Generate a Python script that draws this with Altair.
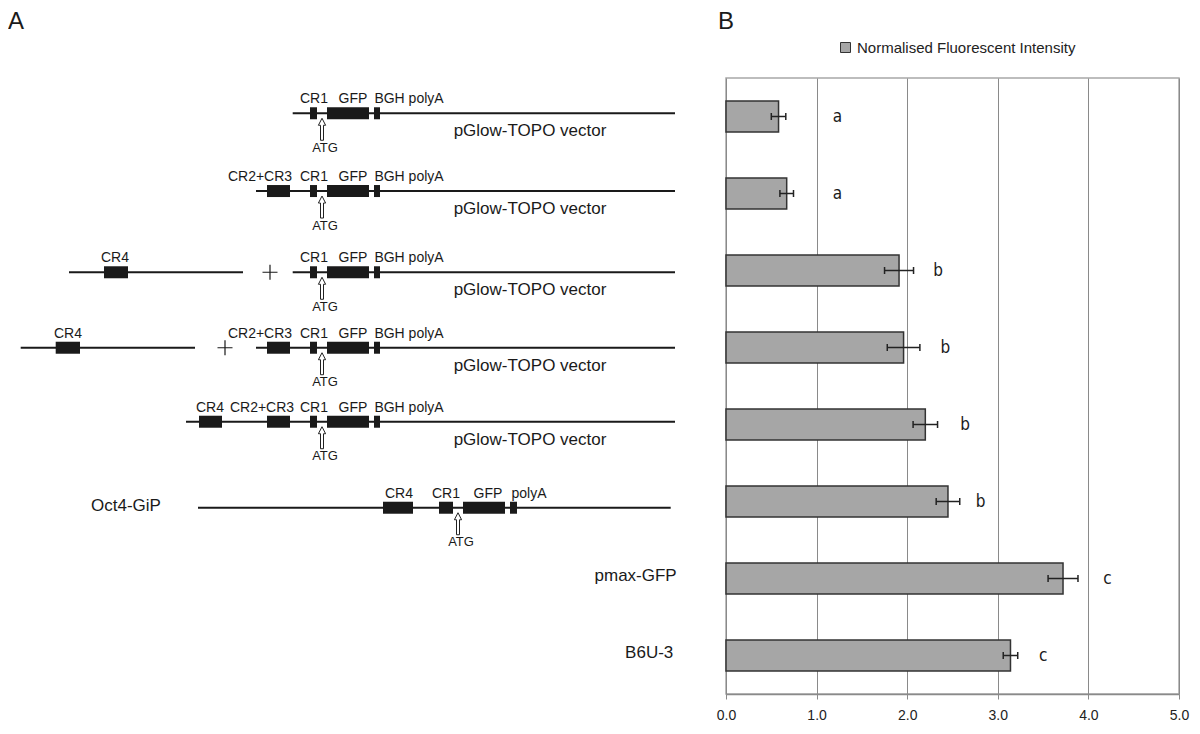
import altair as alt
import pandas as pd

FONT = "Liberation Sans, Arial, sans-serif"
NARROW = "Liberation Sans Narrow, DejaVu Sans Condensed, Liberation Sans, sans-serif"
INK = "#1a1a1a"

# ---------------- Panel B : bar chart data ----------------
constructs = ["CR1", "CR2+CR3 CR1", "CR4 + CR1", "CR4 + CR2+CR3 CR1",
              "CR4 CR2+CR3 CR1", "Oct4-GiP", "pmax-GFP", "B6U-3"]
intensity = [0.58, 0.67, 1.91, 1.96, 2.20, 2.45, 3.72, 3.14]
error = [0.08, 0.075, 0.16, 0.18, 0.135, 0.13, 0.165, 0.08]
group_letter = ["a", "a", "b", "b", "b", "b", "c", "c"]
letter_pos = [1.23, 1.23, 2.34, 2.42, 2.64, 2.81, 4.21, 3.50]
axis_ticks = [0, 1, 2, 3, 4, 5]
series_name = "Normalised Fluorescent Intensity"

# ---------------- Panel A : construct schematic (schematic units) ----------------
row_line = [0.958, 1.968, 3.023, 4.003, 4.964, 6.081]  # track position of rows 1-6

track_row = [1, 2, 3, 3, 4, 4, 5, 6]
track_start = [284.7, 248, 61, 284.7, 12.7, 248, 178, 190]
track_end = [667, 667, 235, 667, 187, 667, 667, 662.7]

box_row = [1, 1, 1, 2, 2, 2, 2, 3, 3, 3, 3, 4, 4, 4, 4, 4, 5, 5, 5, 5, 5, 6, 6, 6, 6]
box_start = [302, 319, 366, 259, 302, 319, 366, 96, 302, 319, 366,
             47.7, 259, 302, 319, 366, 191, 259, 302, 319, 366, 375, 431, 455, 502]
box_end = [309, 361, 372, 282, 309, 361, 372, 120, 309, 361, 372,
           72, 282, 309, 361, 372, 214, 282, 309, 361, 372, 405, 445, 497, 509]

feat_row = [1, 1, 1, 2, 2, 2, 2, 3, 3, 3, 3, 4, 4, 4, 4, 4, 5, 5, 5, 5, 5, 6, 6, 6, 6]
feat_x = [306, 345, 401, 252, 306, 345, 401, 107, 306, 345, 401,
          60, 252, 306, 345, 401, 202, 254, 306, 345, 401, 391, 438, 480, 521]
feat_text = ["CR1", "GFP", "BGH polyA", "CR2+CR3", "CR1", "GFP", "BGH polyA",
             "CR4", "CR1", "GFP", "BGH polyA",
             "CR4", "CR2+CR3", "CR1", "GFP", "BGH polyA",
             "CR4", "CR2+CR3", "CR1", "GFP", "BGH polyA",
             "CR4", "CR1", "GFP", "polyA"]

atg_row = [1, 2, 3, 4, 5, 6]
atg_arrow_x = [314, 314, 314, 314, 314, 450]
atg_text_x = [317, 317, 317, 317, 317, 453]

vector_row = [1, 2, 3, 4, 5]
vector_x = [522, 522, 522, 522, 522]
vector_text = "pGlow-TOPO vector"

plus_row = [3, 4]
plus_x = [262, 217]

side_text = ["Oct4-GiP", "pmax-GFP", "B6U-3"]
side_row = [6.081, 7, 8]
side_x = [118, 668.7, 665.3]

panel_text = ["A", "B"]
panel_x = [0, 710]
panel_row = [-0.383, -0.383]

# ---------------- frames ----------------
def ry(r):
    return row_line[r - 1]

df_tracks = pd.DataFrame({"start": track_start, "end": track_end,
                          "y": [ry(r) for r in track_row]})
df_boxes = pd.DataFrame({"start": box_start, "end": box_end,
                         "y": [ry(r) for r in box_row]})
df_feat = pd.DataFrame({"x": feat_x, "y": [ry(r) for r in feat_row], "t": feat_text})
df_arrow = pd.DataFrame({"x": atg_arrow_x, "y": [ry(r) for r in atg_row]})
df_atg = pd.DataFrame({"x": atg_text_x, "y": [ry(r) for r in atg_row], "t": ["ATG"] * 6})
df_vec = pd.DataFrame({"x": vector_x, "y": [ry(r) for r in vector_row],
                       "t": [vector_text] * len(vector_row)})
df_plus = pd.DataFrame({"x": plus_x, "y": [ry(r) for r in plus_row]})
df_side_c = pd.DataFrame({"x": side_x[:1], "y": side_row[:1], "t": side_text[:1]})
df_side_r = pd.DataFrame({"x": side_x[1:], "y": side_row[1:], "t": side_text[1:]})
df_panel = pd.DataFrame({"x": panel_x, "y": panel_row, "t": panel_text})

xs = alt.Scale(domain=[0, 718], nice=False, zero=False)
ys = alt.Scale(domain=[0.5, 8.5], reverse=True, nice=False, zero=False)
X = lambda f: alt.X(f, scale=xs, axis=None)
Y = lambda f: alt.Y(f, scale=ys, axis=None)

ARROW = ("M0,0.417 L0.3,1.0 L0.125,1.0 L0.125,2.25 L-0.125,2.25 "
         "L-0.125,1.0 L-0.3,1.0 Z")
PLUS = "M-1,0 L1,0 M0,-1 L0,1"

tracks = alt.Chart(df_tracks).mark_rule(color=INK, strokeWidth=2).encode(
    x=X("start:Q"), x2="end:Q", y=Y("y:Q"))
boxes = alt.Chart(df_boxes).mark_rule(color=INK, strokeWidth=12, strokeCap="butt").encode(
    x=X("start:Q"), x2="end:Q", y=Y("y:Q"))
plus = alt.Chart(df_plus).mark_point(shape=PLUS, size=225, filled=False, stroke=INK,
                                     strokeWidth=1.2, opacity=1).encode(
    x=X("x:Q"), y=Y("y:Q"))
arrows = alt.Chart(df_arrow).mark_point(shape=ARROW, size=576, filled=True, fill="white",
                                        stroke="#222", strokeWidth=1, opacity=1).encode(
    x=X("x:Q"), y=Y("y:Q"))
feat = alt.Chart(df_feat).mark_text(fontSize=14, font=FONT, color=INK, dy=-14,
                                    baseline="middle", align="center").encode(
    x=X("x:Q"), y=Y("y:Q"), text="t:N")
atg = alt.Chart(df_atg).mark_text(fontSize=13, font=FONT, color=INK, dy=34.5,
                                  baseline="middle", align="center").encode(
    x=X("x:Q"), y=Y("y:Q"), text="t:N")
vec = alt.Chart(df_vec).mark_text(fontSize=17, font=FONT, color=INK, dy=18,
                                  baseline="middle", align="center").encode(
    x=X("x:Q"), y=Y("y:Q"), text="t:N")
side_c = alt.Chart(df_side_c).mark_text(fontSize=17, font=FONT, color=INK, dy=-2,
                                        baseline="middle", align="center").encode(
    x=X("x:Q"), y=Y("y:Q"), text="t:N")
side_r = alt.Chart(df_side_r).mark_text(fontSize=17, font=FONT, color=INK, dy=-3,
                                        baseline="middle", align="right").encode(
    x=X("x:Q"), y=Y("y:Q"), text="t:N")
panels = alt.Chart(df_panel).mark_text(fontSize=24, font=FONT, color=INK,
                                       baseline="top", align="left").encode(
    x=X("x:Q"), y=Y("y:Q"), text="t:N")

left = alt.layer(tracks, boxes, plus, arrows, feat, atg, vec, side_c, side_r, panels).properties(
    width=718, height=616, view=alt.ViewBackground(strokeOpacity=0))

# ---------------- Panel B chart ----------------
df_bar = pd.DataFrame({
    "construct": constructs,
    "intensity": intensity,
    "lo": [m - e for m, e in zip(intensity, error)],
    "hi": [m + e for m, e in zip(intensity, error)],
    "letter": group_letter,
    "lpos": letter_pos,
    "series": [series_name] * len(constructs),
})
df_caps = pd.DataFrame({
    "construct": constructs * 2,
    "cap": list(df_bar["lo"]) + list(df_bar["hi"]),
})

bx = alt.Scale(domain=[0, 5], nice=False, zero=True)
by = alt.Scale(paddingInner=0.6, paddingOuter=0.3)
x_axis = alt.Axis(values=axis_ticks, format=".1f", title=None, grid=True,
                  gridColor="#8a8a8a", gridWidth=1, domainColor="#8a8a8a", domainWidth=1.5,
                  tickColor="#8a8a8a", tickSize=5, labelFontSize=14, labelColor="#222",
                  labelPadding=9, labelFlush=False, labelFont=FONT)
BY = alt.Y("construct:N", sort=constructs, scale=by, axis=None)

bars = alt.Chart(df_bar).mark_bar(stroke="#333333", strokeWidth=1.5).encode(
    x=alt.X("intensity:Q", scale=bx, axis=x_axis),
    y=BY,
    color=alt.Color("series:N", scale=alt.Scale(range=["#a6a6a6"]),
                    legend=alt.Legend(orient="none", legendX=830, legendY=-38, title=None,
                                      symbolType="square", symbolSize=100,
                                      symbolStrokeColor="#333333", symbolStrokeWidth=1,
                                      labelFontSize=15, labelFont=FONT, labelColor="#222",
                                      labelOffset=4, labelLimit=0, padding=0)),
)
rules = alt.Chart(df_bar).mark_rule(color="#222", strokeWidth=1.5).encode(
    x=alt.X("lo:Q", scale=bx, axis=x_axis), x2="hi:Q", y=BY)
caps = alt.Chart(df_caps).mark_tick(orient="vertical", size=7, thickness=1.5,
                                    color="#222", opacity=1).encode(
    x=alt.X("cap:Q", scale=bx, axis=x_axis), y=BY)
letters = alt.Chart(df_bar).mark_text(fontSize=17, font=NARROW, color=INK,
                                      baseline="middle", align="center").encode(
    x=alt.X("lpos:Q", scale=bx, axis=x_axis), y=BY, text="letter:N")

right = alt.layer(bars, rules, caps, letters).properties(
    width=453, height=616,
    view=alt.ViewBackground(stroke="#a8a8a8", strokeWidth=1.5))

chart = alt.hconcat(left, right, spacing=0, bounds="flush").properties(
    padding={"left": 0, "top": 2, "right": 0, "bottom": 0})

chart.save("out.html", embed_options={"renderer": "svg", "actions": False})
